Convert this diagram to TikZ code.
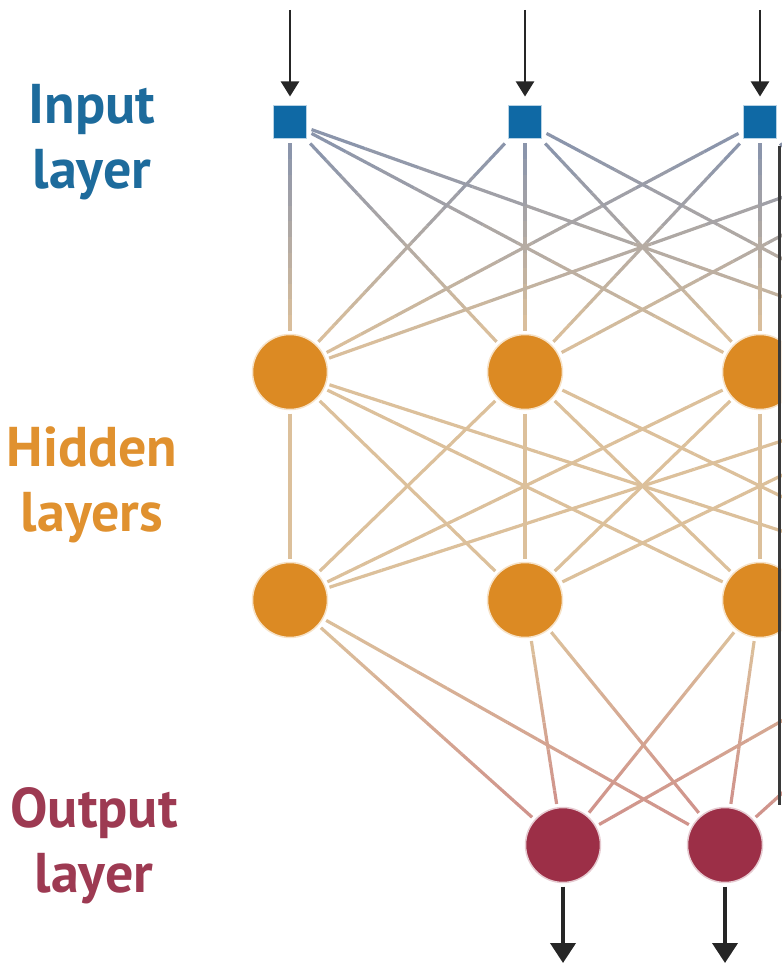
\documentclass[tikz,border=0pt]{standalone}
\usepackage{fontspec}
\setmainfont{PT Sans}
\usetikzlibrary{arrows.meta,positioning,calc,backgrounds}
\definecolor{ink}{HTML}{262626}
\definecolor{inblue}{HTML}{0F69A5}
\definecolor{intext}{HTML}{1D6B9C}
\definecolor{hidorange}{HTML}{DC8A23}
\definecolor{hidtext}{HTML}{E0912F}
\definecolor{outred}{HTML}{9C2F47}
\definecolor{outtext}{HTML}{9D3A52}
\definecolor{wireblue}{HTML}{8793AC}
\definecolor{wiretan}{HTML}{DCC09B}
\definecolor{wirerose}{HTML}{D0928B}
\definecolor{framegray}{HTML}{3A3A3A}
\tikzset{
  inbox/.style={rectangle, minimum size=33pt, inner sep=0pt, fill=inblue, draw=inblue!30, line width=1pt, outer sep=5pt},
  hidnode/.style={circle, minimum size=75pt, inner sep=0pt, fill=hidorange, draw=hidorange!25, line width=1.5pt, outer sep=4pt},
  outnode/.style={circle, minimum size=75pt, inner sep=0pt, fill=outred, draw=outred!25, line width=1.5pt, outer sep=4pt},
  layerlabel/.style={font=\fontsize{56}{65}\selectfont\bfseries, align=center, inner sep=0pt},
  wire/.style={line width=3.2pt},
  inarrow/.style={-{Triangle[length=15pt,width=18pt]}, line width=2.2pt, draw=ink, shorten >=4pt},
  outarrow/.style={-{Triangle[length=20pt,width=25pt]}, line width=4pt, draw=ink}
}
% wire from #1 to #2, colour #3 turning into #4 on the way
\newcommand{\gradwire}[4]{%
  \path (#1) -- (#2) coordinate[pos=0] (w0) coordinate[pos=1] (w1);
  \foreach \k in {0,...,11}{
    \pgfmathtruncatemacro{\mixpc}{100-100*(\k+0.5)/12}
    \draw[wire, draw=#3!\mixpc!#4] ($(w0)!{\k/12}!(w1)$) -- ($(w0)!{(\k+1)/12}!(w1)$);
  }}

\begin{document}
\begin{tikzpicture}[x=1pt, y=-1pt]
\useasboundingbox (0,0) rectangle (781,965);
\clip (0,0) rectangle (781,965);
\foreach \i/\x in {1/290,2/525,3/760,4/995}{
  \node[inbox] (in\i) at (\x,122) {};
  \node[hidnode] (ha\i) at (\x,372) {};
  \node[hidnode] (hb\i) at (\x,600) {};
  \coordinate (src\i) at (\x,10);
  \draw[inarrow] (src\i) -- (in\i);
}
\node[outnode] (out1) at (563,845) {};
\node[outnode] (out2) at (725,845) {};
\coordinate (sink1) at (563,963);
\coordinate (sink2) at (725,963);
\draw[outarrow] (out1) -- (sink1);
\draw[outarrow] (out2) -- (sink2);
\begin{scope}[on background layer]
\foreach \a in {1,...,4}{
  \foreach \b in {1,...,4}{
    \gradwire{in\a}{ha\b}{wireblue}{wiretan}
    \gradwire{ha\a}{hb\b}{wiretan}{wiretan}
  }
  \foreach \c in {1,2}{
    \gradwire{hb\a}{out\c}{wiretan}{wirerose}
  }
}
\end{scope}
\node[layerlabel, text=intext] (inlbl) at (92,142) {Input\\layer};
\node[layerlabel, text=hidtext] (hidlbl) at (92,485) {Hidden\\layers};
\node[layerlabel, text=outtext] (outlbl) at (94,846) {Output\\layer};
\draw[framegray, line width=3pt] (779.5,146) -- (779.5,805);
\end{tikzpicture}
\end{document}
